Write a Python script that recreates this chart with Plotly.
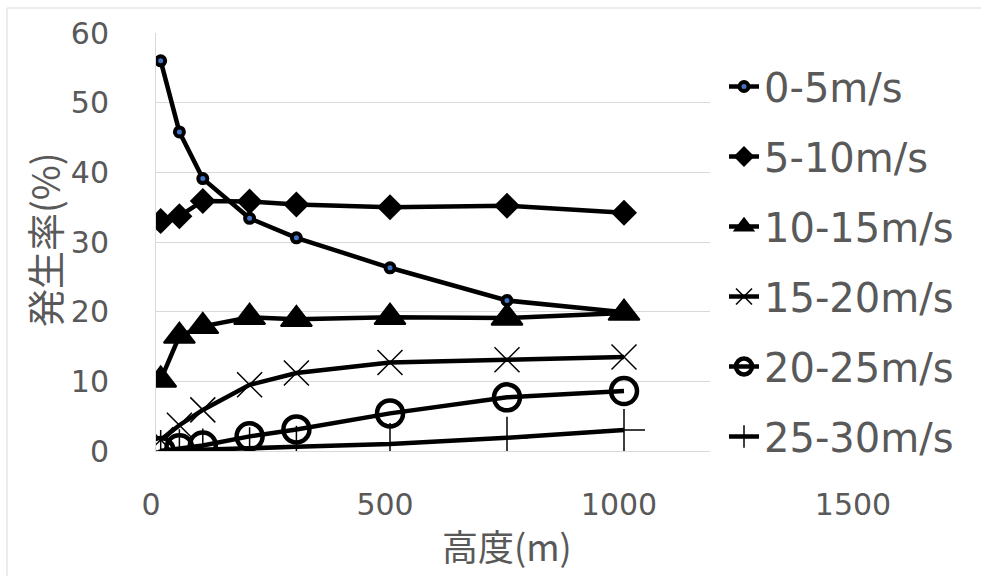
import plotly.graph_objects as go

heights = [10, 50, 100, 200, 300, 500, 750, 1000]
series_names = ["0-5m/s", "5-10m/s", "10-15m/s", "15-20m/s", "20-25m/s", "25-30m/s"]
s0_5 = [56.0, 45.8, 39.1, 33.4, 30.6, 26.3, 21.6, 19.9]
s5_10 = [33.0, 33.7, 35.9, 35.8, 35.4, 35.0, 35.2, 34.2]
s10_15 = [10.2, 16.5, 17.9, 19.2, 18.9, 19.2, 19.1, 19.8]
s15_20 = [1.6, 3.7, 5.9, 9.5, 11.2, 12.7, 13.1, 13.5]
s20_25 = [0.0, 0.4, 0.8, 2.1, 3.1, 5.4, 7.7, 8.6]
s25_30 = [0.0, 0.1, 0.2, 0.4, 0.6, 1.0, 1.9, 3.0]
x_ticks = [0, 500, 1000, 1500]
y_ticks = [0, 10, 20, 30, 40, 50, 60]

W, H = 981, 576
L, R, T, B = 156, 123, 33, 125
PW, PH = W - L - R, H - T - B

def px(x):
    return (x - L) / PW

def py(y):
    return (H - B - y) / PH

styles = [
    dict(symbol="circle", size=9, color="#4472c4", line=dict(color="black", width=4)),
    dict(symbol="diamond", size=20, color="black", line=dict(color="black", width=0)),
    dict(symbol="triangle-up", size=27, color="black", line=dict(color="black", width=2)),
    dict(symbol="x-thin", size=25, color="black", line=dict(color="black", width=1.5)),
    dict(symbol="circle-open", size=26, color="black", line=dict(color="black", width=4.5)),
    dict(symbol="cross-thin", size=30, color="black", line=dict(color="black", width=1.5)),
]
data = [s0_5, s5_10, s10_15, s15_20, s20_25, s25_30]

fig = go.Figure()
for i, (name, vals, st) in enumerate(zip(series_names, data, styles)):
    fig.add_trace(go.Scatter(
        x=heights, y=vals, name=name, mode="lines+markers",
        line=dict(color="black", width=4.5),
        marker=st, legendgroup=f"g{i}",
    ))

grey = "#595959"
fig.update_layout(
    width=W, height=H, autosize=False,
    margin=dict(l=L, r=R, t=T, b=B, pad=0),
    paper_bgcolor="white", plot_bgcolor="white",
    font=dict(family="DejaVu Sans", color=grey),
    showlegend=True,
    legend=dict(
        x=px(724), y=py(54), xanchor="left", yanchor="top",
        bgcolor="white", borderwidth=0,
        font=dict(family="DejaVu Sans", size=40, color=grey),
        tracegroupgap=15,
    ),
    xaxis=dict(
        range=[0, 1500], tickvals=x_ticks, showgrid=False, zeroline=False,
        showline=True, linecolor="#d9d9d9", linewidth=1,
        tickfont=dict(family="DejaVu Sans", size=30, color=grey),
        ticks="", ticklabelstandoff=27, ticklabelshift=-5,
    ),
    yaxis=dict(
        range=[0, 60], tickvals=y_ticks, showgrid=True, gridcolor="#d9d9d9",
        gridwidth=1, zeroline=False, showline=True, linecolor="#d9d9d9",
        tickfont=dict(family="DejaVu Sans", size=30, color=grey),
        ticks="", ticklabelstandoff=40,
    ),
    annotations=[
        dict(text="高度(m)", xref="paper", yref="paper", x=px(507), y=py(545),
             xanchor="center", yanchor="middle", showarrow=False,
             font=dict(family="Noto Sans CJK JP", size=36, color=grey)),
        dict(text="発生率(%)", xref="paper", yref="paper", x=px(43), y=py(240),
             xanchor="center", yanchor="middle", showarrow=False, textangle=-90,
             font=dict(family="Noto Sans CJK JP", size=38, color=grey)),
    ],
    shapes=[
        dict(type="rect", xref="paper", yref="paper", x0=px(710), x1=px(862),
             y0=py(455), y1=py(28), line=dict(width=0), fillcolor="white",
             layer="above"),
        dict(type="line", xref="paper", yref="paper", x0=px(7), x1=px(981),
             y0=py(8), y1=py(8), line=dict(color="#d9d9d9", width=1)),
        dict(type="line", xref="paper", yref="paper", x0=px(7), x1=px(7),
             y0=py(8), y1=py(576), line=dict(color="#d9d9d9", width=1)),
    ],
)

fig.write_html("out.html")
